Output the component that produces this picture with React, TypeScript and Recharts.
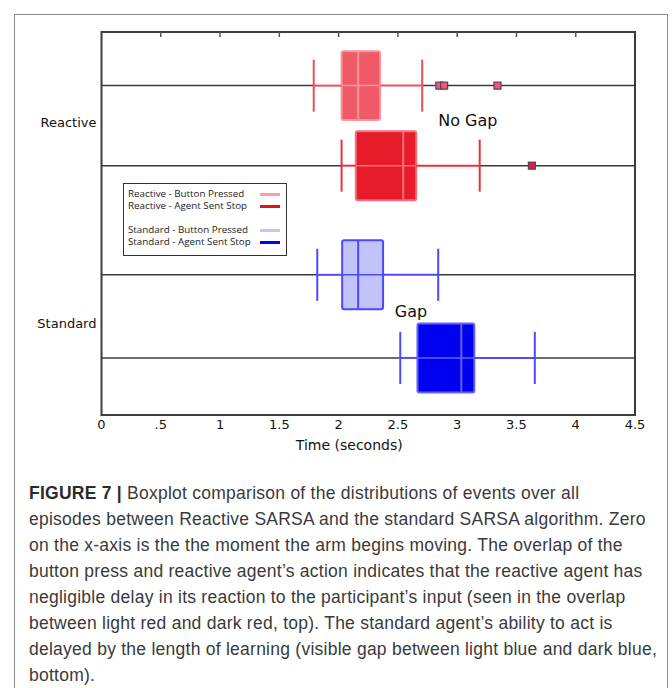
import React from 'react';
import { ComposedChart, XAxis, YAxis, ReferenceLine, ReferenceArea, ReferenceDot, Scatter } from 'recharts';

// groups on the y axis, and the four boxes (top to bottom)
const categories = ['Reactive', 'Standard'];
const seriesNames = [
  'Reactive - Button Pressed',
  'Reactive - Agent Sent Stop',
  'Standard - Button Pressed',
  'Standard - Agent Sent Stop',
];

// box statistics in seconds
const whiskerLow = [1.79, 2.025, 1.82, 2.52];
const q1 = [2.025, 2.145, 2.03, 2.665];
const median = [2.165, 2.545, 2.165, 3.035];
const q3 = [2.35, 2.655, 2.375, 3.145];
const whiskerHigh = [2.705, 3.19, 2.84, 3.655];
const outliers = [[2.85, 2.89, 3.34], [3.63], [], []];

const xTicks = [0, 0.5, 1, 1.5, 2, 2.5, 3, 3.5, 4, 4.5];
const topTicks = [0.5, 1, 1.5, 2, 2.5, 3, 3.5, 4];

// layout on the (hidden) 0..1 vertical scale
const rowY = [0.86, 0.651, 0.366, 0.149];
const groupY = [0.765, 0.24];
const BOX_H = 0.09;
const CAP_H = 0.068;
const TICK_LEN = 0.013;

const fills = ['#f05a68', '#e81b2a', '#c3c3f9', '#0000f0'];
const edges = ['#f7959d', '#f2707a', '#4a4aff', '#6262ff'];
const whiskers = ['#f04e5c', '#e8303e', '#4a4aff', '#4c4cff'];
const swatches = ['#f4a2a8', '#e4101c', '#c4c4f8', '#0000ff'];

const captionLines = [
  'episodes between Reactive SARSA and the standard SARSA algorithm. Zero',
  'on the x-axis is the the moment the arm begins moving. The overlap of the',
  'button press and reactive agent\u2019s action indicates that the reactive agent has',
  'negligible delay in its reaction to the participant\u2019s input (seen in the overlap',
  'between light red and dark red, top). The standard agent\u2019s ability to act is',
  'delayed by the length of learning (visible gap between light blue and dark blue,',
  'bottom).',
];

const OutlierSquare = (props: any) => {
  const { cx, cy, fill } = props;
  if (cx == null || cy == null) return null;
  return <rect x={cx - 3.5} y={cy - 3.5} width={7} height={7} fill={fill} stroke="#5a3c6a" strokeWidth={1.2} />;
};

export default function App() {
  const rows = seriesNames.map((_, i) => i);

  return (
    <div style={{ position: 'absolute', left: 0, top: 0, width: 672, height: 688, background: '#fff', overflow: 'hidden' }}>
      <div style={{ position: 'absolute', left: 14, top: 14, width: 652, height: 700, border: '1.5px solid #8c8c8c' }} />

      <div style={{ position: 'absolute', left: 0, top: 0 }}>
        <ComposedChart
          width={672}
          height={460}
          margin={{ top: 32, right: 37, bottom: 5, left: 11.5 }}
          style={{ fontFamily: 'DejaVu Sans' }}
        >
          <XAxis
            type="number"
            dataKey="x"
            domain={[0, 4.5]}
            ticks={xTicks}
            interval={0}
            tickFormatter={(v: number) => (v === 0.5 ? '.5' : String(v))}
            axisLine={false}
            tickLine={false}
            tickSize={4}
            tickMargin={1}
            height={40}
            tick={{ fontSize: 13, fill: '#111' }}
            label={{ value: 'Time (seconds)', position: 'insideBottom', offset: 5, dx: -19, fontSize: 14, fill: '#111' }}
          />
          <YAxis
            type="number"
            dataKey="y"
            domain={[0, 1]}
            ticks={groupY}
            interval={0}
            tickFormatter={(v: number) => categories[groupY.indexOf(v)]}
            axisLine={false}
            tickLine={false}
            tickSize={0}
            tickMargin={5}
            width={90}
            tick={{ fontSize: 13, fill: '#111' }}
          />

          {/* row baselines outside the whiskers */}
          {rows.map((i) => (
            <ReferenceLine key={`gl${i}`} segment={[{ x: 0, y: rowY[i] }, { x: whiskerLow[i], y: rowY[i] }]} stroke="#3a3a3a" strokeWidth={1.5} />
          ))}
          {rows.map((i) => (
            <ReferenceLine key={`gr${i}`} segment={[{ x: whiskerHigh[i], y: rowY[i] }, { x: 4.5, y: rowY[i] }]} stroke="#3a3a3a" strokeWidth={1.5} />
          ))}

          {/* whiskers and caps */}
          {rows.map((i) => (
            <ReferenceLine key={`wl${i}`} segment={[{ x: whiskerLow[i], y: rowY[i] }, { x: q1[i], y: rowY[i] }]} stroke={whiskers[i]} strokeWidth={2} />
          ))}
          {rows.map((i) => (
            <ReferenceLine key={`wh${i}`} segment={[{ x: q3[i], y: rowY[i] }, { x: whiskerHigh[i], y: rowY[i] }]} stroke={whiskers[i]} strokeWidth={2} />
          ))}
          {rows.map((i) => (
            <ReferenceLine key={`cl${i}`} segment={[{ x: whiskerLow[i], y: rowY[i] - CAP_H }, { x: whiskerLow[i], y: rowY[i] + CAP_H }]} stroke={whiskers[i]} strokeWidth={2} />
          ))}
          {rows.map((i) => (
            <ReferenceLine key={`ch${i}`} segment={[{ x: whiskerHigh[i], y: rowY[i] - CAP_H }, { x: whiskerHigh[i], y: rowY[i] + CAP_H }]} stroke={whiskers[i]} strokeWidth={2} />
          ))}

          {/* boxes */}
          {rows.map((i) => (
            <ReferenceArea
              key={`b${i}`}
              x1={q1[i]}
              x2={q3[i]}
              y1={rowY[i] - BOX_H}
              y2={rowY[i] + BOX_H}
              fill={fills[i]}
              fillOpacity={1}
              stroke={edges[i]}
              strokeWidth={2}
              radius={2}
            />
          ))}
          {rows.map((i) => (
            <ReferenceLine key={`bi${i}`} segment={[{ x: q1[i], y: rowY[i] }, { x: q3[i], y: rowY[i] }]} stroke={edges[i]} strokeWidth={1.5} />
          ))}
          {rows.map((i) => (
            <ReferenceLine key={`m${i}`} segment={[{ x: median[i], y: rowY[i] - BOX_H }, { x: median[i], y: rowY[i] + BOX_H }]} stroke={edges[i]} strokeWidth={2} />
          ))}

          {/* outliers */}
          {rows.map((i) =>
            outliers[i].length ? (
              <Scatter
                key={`o${i}`}
                name={seriesNames[i]}
                data={outliers[i].map((v) => ({ x: v, y: rowY[i] }))}
                fill={fills[i]}
                shape={<OutlierSquare />}
                isAnimationActive={false}
              />
            ) : null
          )}

          {/* annotations */}
          <ReferenceDot x={3.09} y={0.77} r={0} fill="none" stroke="none" label={{ value: 'No Gap', position: 'center', fontSize: 16, fill: '#111' }} />
          <ReferenceDot x={2.61} y={0.272} r={0} fill="none" stroke="none" label={{ value: 'Gap', position: 'center', fontSize: 16, fill: '#111' }} />

          {/* ticks on the top border */}
          {topTicks.map((t) => (
            <ReferenceLine key={`t${t}`} segment={[{ x: t, y: 1 }, { x: t, y: 1 - TICK_LEN }]} stroke="#555" strokeWidth={1.5} />
          ))}

          {/* plot frame */}
          <ReferenceArea x1={0} x2={4.5} y1={0} y2={1} fill="none" stroke="#3c3c3c" strokeWidth={2} ifOverflow="visible" />
        </ComposedChart>
      </div>

      {/* legend */}
      <div
        style={{
          position: 'absolute',
          left: 123,
          top: 183,
          width: 162,
          height: 71,
          border: '1.5px solid #333',
          background: '#fff',
          fontFamily: 'Open Sans',
          fontSize: 9.8,
          color: '#222',
        }}
      >
        {seriesNames.map((name, i) => (
          <div
            key={name}
            style={{ position: 'absolute', left: 4, top: [4, 16, 40, 52][i], height: 12, width: 152, lineHeight: '12px', whiteSpace: 'nowrap' }}
          >
            {name}
            <span
              style={{ position: 'absolute', left: 132, top: 5, width: 20, height: 3, background: swatches[i] }}
            />
          </div>
        ))}
      </div>

      {/* caption */}
      <div
        style={{
          position: 'absolute',
          left: 29,
          top: 480,
          fontFamily: 'Liberation Sans',
          fontSize: 17.5,
          letterSpacing: 0.25,
          lineHeight: '26px',
          color: '#3a3a3a',
          whiteSpace: 'nowrap',
        }}
      >
        <div>
          <span style={{ fontWeight: 700, color: '#2a2a2a' }}>FIGURE 7 |</span> Boxplot comparison of the distributions of events over all
        </div>
        {captionLines.map((l) => (
          <div key={l}>{l}</div>
        ))}
      </div>
    </div>
  );
}
